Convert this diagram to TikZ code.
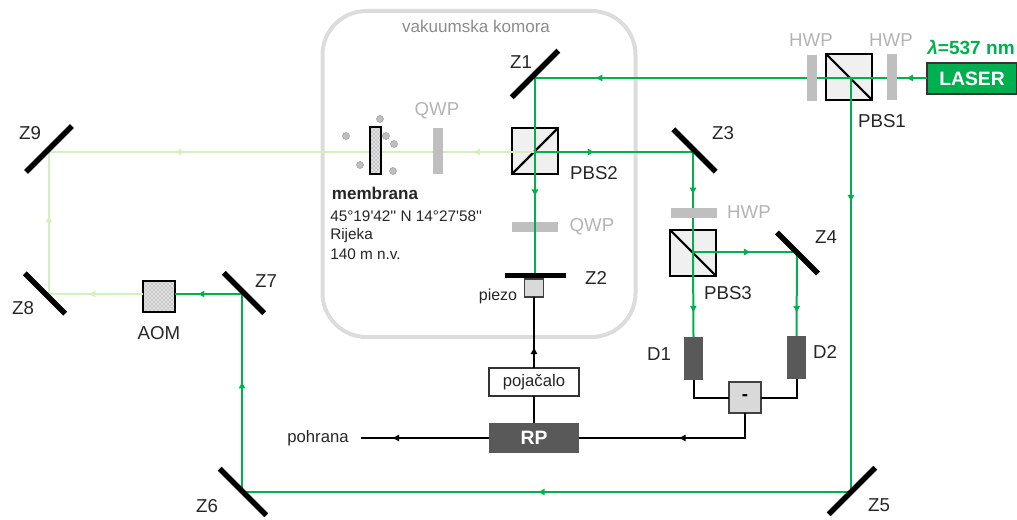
\documentclass[tikz,border=0pt]{standalone}
\usepackage{fontspec}
\setmainfont{Liberation Sans}[Ligatures=TeXOff]
\usetikzlibrary{arrows.meta,decorations.markings,patterns}
\definecolor{beam}{HTML}{00B050}
\definecolor{pale}{HTML}{D2F0C0}
\definecolor{plategray}{HTML}{BFBFBF}
\definecolor{txtgray}{HTML}{B4B4B4}
\definecolor{cube}{HTML}{F0F0F0}
\definecolor{dark}{HTML}{595959}
\definecolor{wall}{HTML}{DCDCDC}
\tikzset{
  sized/.style 2 args={minimum width=#1*0.75pt,minimum height=#2*0.75pt,inner sep=0pt,outer sep=0pt},
  cubebox/.style={sized={46}{46},draw=black,line width=1.6pt,fill=cube},
  plate/.style 2 args={sized={#1}{#2},fill=plategray},
  mirror/.style={sized={#1}{5.5},fill=black},
  greybox/.style 2 args={sized={#1}{#2},draw=black!75,line width=0.9pt,fill=black!15},
  dotbox/.style 2 args={sized={#1}{#2},draw=black,line width=1.5pt,
     preaction={fill=black!12},pattern=crosshatch dots,pattern color=black!50},
  darkbox/.style 2 args={sized={#1}{#2},fill=dark,text=white},
  lab/.style={font=\fontsize{14}{16}\selectfont,text=black!85,inner sep=0pt},
  greylab/.style={font=\fontsize{14}{16}\selectfont,text=txtgray,inner sep=0pt},
  small/.style={font=\fontsize{11.5}{13}\selectfont,text=black!85,inner sep=0pt},
  midtip/.style={postaction={decorate,decoration={markings,
     mark=at position #1 with {\arrow{Latex[length=5.5pt,width=5.5pt]}}}}},
  green/.style={draw=beam,line width=1.5pt},
  light/.style={draw=pale,line width=1.8pt},
  signal/.style={draw=black,line width=1.5pt},
}
\begin{document}
\begin{tikzpicture}[x=0.75pt,y=-0.75pt]
\useasboundingbox (0,0) rectangle (1017,520);
% chamber
\node[sized={313}{326},draw=wall,line width=3pt,rounded corners=33pt] (chamber) at (479,174) {};
\node[greylab,font=\fontsize{12.8}{14}\selectfont,text=black!45] (chlab) at (476,26) {vakuumska komora};
% cubes
\node[cubebox] (PBS1) at (849,77) {};
\node[cubebox] (PBS2) at (535,151) {};
\node[cubebox] (PBS3) at (693,253) {};
\draw[black,line width=1.6pt] (PBS1.north west) -- (PBS1.south east);
\draw[black,line width=1.6pt] (PBS2.south west) -- (PBS2.north east);
\draw[black,line width=1.6pt] (PBS3.north west) -- (PBS3.south east);
\node[plate={46}{10}] (QWPb) at (535,227) {};
% equipment
\node[sized={90}{31},fill=beam,draw=black!80,line width=1pt,text=white,font=\bfseries\fontsize{14.5}{16}\selectfont] (laser) at (972,78.5) {LASER};
\node[dotbox={32}{31}] (AOM) at (159,296.5) {};
\node[greybox={19}{18}] (piezo) at (534,288) {};
\node[sized={90}{28},draw=black!80,line width=0.9pt,fill=white,font=\fontsize{12.5}{14}\selectfont,text=black!85] (amp) at (534,382) {pojačalo};
\node[darkbox={90}{30},font=\bfseries\fontsize{14.5}{16}\selectfont] (RP) at (534,438) {RP};
\node[darkbox={19}{43}] (D1) at (693.5,358.5) {};
\node[darkbox={19}{43}] (D2) at (796.5,357.5) {};
\node[greybox={32}{31},font=\bfseries\fontsize{14}{16}\selectfont,text=black] (minus) at (745,397.5) {-};
% junctions
\coordinate (jZ1) at (535,78);
\coordinate (jZ2) at (535,276);
\coordinate (jZ3) at (693,152);
\coordinate (jZ4) at (797,252);
\coordinate (jZ5) at (851,492);
\coordinate (jZ6) at (242,492);
\coordinate (jZ7) at (242,294);
\coordinate (jZ8) at (49,294);
\coordinate (jZ9) at (49,152);
\coordinate (j1) at (851,78);
\coordinate (j2) at (535,152);
\coordinate (j3) at (693,252);
\coordinate (jM) at (375,152);
\coordinate (store) at (361,438);
% pale beams
\draw[light,midtip=0.585] (AOM.west |- jZ8) -- (jZ8);
\draw[light,midtip=0.556] (jZ8) -- (jZ9);
\draw[light,midtip=0.42] (jZ9) -- (jM);
\draw[light,midtip=0.39] (j2) -- (jM);
% green beams
\draw[green,midtip=0.28] (laser.west |- j1) -- (j1);
\draw[green,midtip=0.81] (j1) -- (jZ1);
\draw[green,midtip=0.30] (j1) -- (jZ5);
\draw[green,midtip=0.515] (jZ5) -- (jZ6);
\draw[green,midtip=0.56] (jZ6) -- (jZ7);
\draw[green,midtip=0.67] (jZ7) -- (AOM.east |- jZ7);
\draw[green,midtip=0.6] (jZ1) -- (jZ2);
\draw[green,midtip=0.38] (j2) -- (jZ3);
\draw[green,midtip=0.43] (jZ3) -- (j3);
\draw[green,midtip=0.72] (j3) -- (D1.north);
\draw[green,midtip=0.56] (j3) -- (jZ4);
\draw[green,midtip=0.73] (jZ4) -- (D2.north);
% signals
\draw[signal,midtip=0.30] (amp.north) -- (piezo.south);
\draw[signal] (RP.north) -- (amp.south);
\draw[signal,midtip=0.76] (RP.west) -- (store);
\draw[signal,midtip=0.48] (minus.south) |- (RP.east);
\draw[signal] (D1.south) |- (minus.west);
\draw[signal] (D2.south) |- (minus.east);
% plates
\node[plate={10}{46}] (HWPa) at (812,78) {};
\node[plate={10}{46}] (HWPb) at (892,77) {};
\node[plate={46}{10}] (HWPc) at (694,213) {};
\node[plate={10}{46}] (QWPa) at (437.5,151) {};
% membrane and atoms
\node[dotbox={11}{47}] (membrane) at (375.5,150.5) {};
\foreach \n/\a/\b in {a/380/119,b/346/136,c/386/136,d/394/144,e/360/165,f/393/171}
  \node[circle,minimum size=5.2pt,inner sep=0pt,draw=black!40,line width=0.4pt,fill=black!25] (atom\n) at (\a,\b) {};
% mirrors
\node[mirror=66,rotate=45] (Z1) at (535,74) {};
\node[sized={61}{5},fill=black] (Z2) at (535.5,276) {};
\node[mirror=60,rotate=-45] (Z3) at (694.5,150.5) {};
\node[mirror=58,rotate=-45] (Z4) at (797.5,253) {};
\node[mirror=66,rotate=45] (Z5) at (852,491) {};
\node[mirror=66,rotate=-45] (Z6) at (243,492) {};
\node[mirror=57,rotate=-45] (Z7) at (244,293) {};
\node[mirror=57,rotate=-45] (Z8) at (45,293.5) {};
\node[mirror=65,rotate=45] (Z9) at (49,149) {};
% labels
\node[lab] (lZ1) at (521,62) {Z1};
\node[lab] (lZ2) at (596,278) {Z2};
\node[lab] (lZ3) at (723,133) {Z3};
\node[lab] (lZ4) at (826,237) {Z4};
\node[lab] (lZ5) at (879,505) {Z5};
\node[lab] (lZ6) at (207,506) {Z6};
\node[lab] (lZ7) at (266,281) {Z7};
\node[lab] (lZ8) at (23,308) {Z8};
\node[lab] (lZ9) at (30,133) {Z9};
\node[lab] (lP1) at (882,121) {PBS1};
\node[lab] (lP2) at (594,173) {PBS2};
\node[lab] (lP3) at (728,293) {PBS3};
\node[lab] (lD1) at (659,354) {D1};
\node[lab] (lD2) at (825,352) {D2};
\node[lab] (lAOM) at (159,333) {AOM};
\node[greylab] (lHa) at (811,40) {HWP};
\node[greylab] (lHb) at (891,40) {HWP};
\node[greylab] (lHc) at (749,212) {HWP};
\node[greylab] (lQa) at (437,111) {QWP};
\node[greylab] (lQb) at (592,227) {QWP};
\node[inner sep=0pt,text=beam,font=\bfseries\fontsize{14.3}{16}\selectfont] (wl) at (971,47) {\textit{λ}=537 nm};
\node[small,font=\fontsize{12}{14}\selectfont] (lpiezo) at (498,296) {piezo};
\node[small,font=\fontsize{12.5}{14}\selectfont] (lstore) at (318,438) {pohrana};
\node[small,font=\bfseries\fontsize{12.8}{14}\selectfont] (lmem) at (375,193) {membrana};
\node[small,anchor=west] (coord) at (330,216) {45°19'42'' N 14°27'58''};
\node[small,anchor=west] (city) at (330,236) {Rijeka};
\node[small,anchor=west] (alt) at (330,254) {140 m n.v.};
\end{tikzpicture}
\end{document}
